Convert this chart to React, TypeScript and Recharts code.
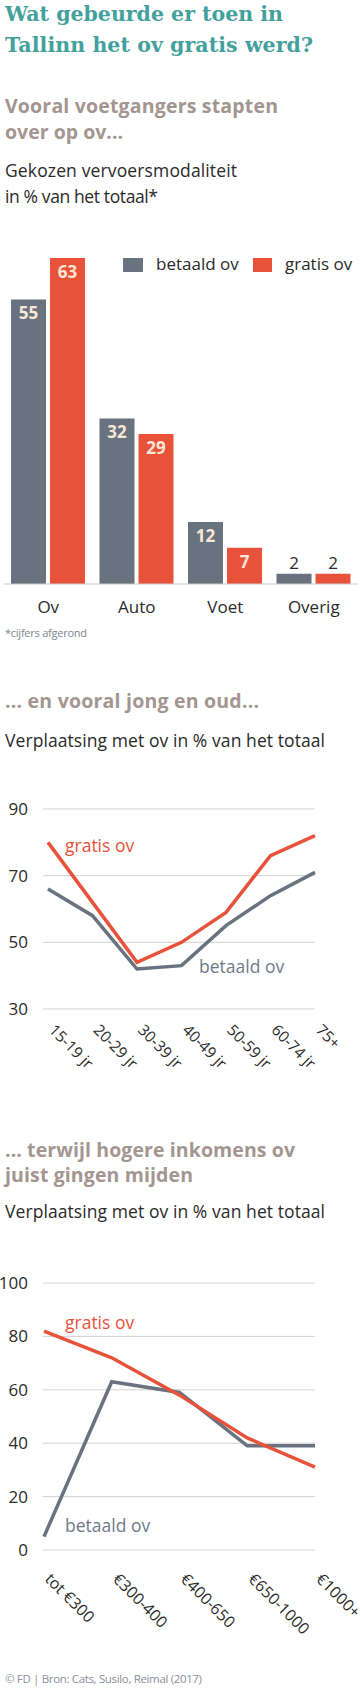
import React from 'react';
import { BarChart, Bar, XAxis, YAxis, LabelList, Legend, LineChart, Line, CartesianGrid } from 'recharts';

const SANS = '"Open Sans", Lato, sans-serif';
const SERIF = '"DejaVu Serif", serif';
const GREY = '#68737f';
const RED = '#e8523a';
const TEAL = '#43a19d';
const TAUPE = '#a39590';
const INK = '#2a2a2a';
const GRID = '#d6d0cd';

// bar chart: keuze vervoermiddel
const modes = ['Ov', 'Auto', 'Voet', 'Overig'];
const paidModes = [55, 32, 12, 2];
const freeModes = [63, 29, 7, 2];

// leeftijd
const ages = ['15-19 jr', '20-29 jr', '30-39 jr', '40-49 jr', '50-59 jr', '60-74 jr', '75+'];
const paidAges = [66, 58, 42, 43, 55, 64, 71];
const freeAges = [80, 62, 44, 50, 59, 76, 82];
const ageTicks = [30, 50, 70, 90];

// inkomen
const incomes = ['tot €300', '€300-400', '€400-650', '€650-1000', '€1000+'];
const paidIncome = [5, 63, 59, 39, 39];
const freeIncome = [82, 72, 58, 42, 31];
const incomeTicks = [0, 20, 40, 60, 80, 100];

const modeData = modes.map((m, i) => ({ mode: m, betaald: paidModes[i], gratis: freeModes[i] }));
const ageData = ages.map((a, i) => ({ age: a, betaald: paidAges[i], gratis: freeAges[i] }));
const incomeData = incomes.map((a, i) => ({ income: a, betaald: paidIncome[i], gratis: freeIncome[i] }));

const renderValue = (props: any) => {
  const { x, y, width, value } = props;
  const inside = value > 5;
  return (
    <text
      x={x + width / 2}
      y={inside ? y + 20 : y - 5}
      textAnchor="middle"
      fontFamily={SANS}
      fontSize={17}
      fontWeight={inside ? 700 : 400}
      fill={inside ? '#fbe6d6' : INK}
    >
      {value}
    </text>
  );
};

const renderModeTick = (props: any) => {
  const { x, y, payload } = props;
  return (
    <text x={x} y={y + 29} textAnchor="middle" fontFamily={SANS} fontSize={17} fill={INK}>
      {payload.value}
    </text>
  );
};

const renderLegend = () => (
  <div style={{ position: 'relative', height: 18, fontFamily: SANS, fontSize: 17, color: INK }}>
    <div style={{ position: 'absolute', left: 123, top: 2, width: 20, height: 14, background: GREY }} />
    <div style={{ position: 'absolute', left: 156, top: -2, lineHeight: '20px', whiteSpace: 'nowrap' }}>betaald ov</div>
    <div style={{ position: 'absolute', left: 253, top: 2, width: 19, height: 14, background: RED }} />
    <div style={{ position: 'absolute', left: 285, top: -2, lineHeight: '20px', whiteSpace: 'nowrap' }}>gratis ov</div>
  </div>
);

const yTick = (props: any) => {
  const { y, payload } = props;
  return (
    <text x={28} y={y} dy={6} textAnchor="end" fontFamily={SANS} fontSize={17} fill={INK}>
      {payload.value}
    </text>
  );
};

const makeAngleTick = (dx: number, dy: number, size: number) => (props: any) => {
  const { x, y, payload } = props;
  return (
    <g transform={`translate(${x + dx},${y + dy})`}>
      <text transform="rotate(45)" textAnchor="start" fontFamily={SANS} fontSize={size} fill={INK}>
        {payload.value}
      </text>
    </g>
  );
};

const ModeChart = () => (
  <BarChart width={360} height={390} data={modeData} margin={{ top: 28, right: 2, left: 4, bottom: 0 }} barGap={4} barSize={35}>
    <XAxis dataKey="mode" height={36} axisLine={{ stroke: '#cfc8c5' }} tickLine={false} tickSize={0} tickMargin={0} interval={0} tick={renderModeTick} />
    <YAxis hide domain={[0, 63]} />
    <Legend verticalAlign="middle" align="center" content={renderLegend} wrapperStyle={{ top: 26, left: 0, width: 360 }} />
    <Bar dataKey="betaald" fill={GREY} isAnimationActive={false}>
      <LabelList dataKey="betaald" content={renderValue} />
    </Bar>
    <Bar dataKey="gratis" fill={RED} isAnimationActive={false}>
      <LabelList dataKey="gratis" content={renderValue} />
    </Bar>
  </BarChart>
);

const AgeChart = () => (
  <LineChart width={360} height={300} data={ageData} margin={{ top: 29, right: 45, left: 0, bottom: 0 }}>
    <CartesianGrid vertical={false} stroke={GRID} />
    <XAxis dataKey="age" height={71} axisLine={false} tickLine={false} interval={0} padding={{ left: 5, right: 0 }} tick={makeAngleTick(0, 14, 15.5)} />
    <YAxis width={43} domain={[30, 90]} ticks={ageTicks} axisLine={false} tickLine={false} tick={yTick} />
    <Line dataKey="betaald" stroke={GREY} strokeWidth={3.5} dot={false} isAnimationActive={false} />
    <Line dataKey="gratis" stroke={RED} strokeWidth={3.5} dot={false} isAnimationActive={false} />
  </LineChart>
);

const IncomeChart = () => (
  <LineChart width={360} height={385} data={incomeData} margin={{ top: 23, right: 45, left: 0, bottom: 0 }}>
    <CartesianGrid vertical={false} stroke={GRID} />
    <XAxis dataKey="income" height={95} axisLine={false} tickLine={false} interval={0} padding={{ left: 1, right: 0 }} tick={makeAngleTick(0, 22, 16)} />
    <YAxis width={43} domain={[0, 100]} ticks={incomeTicks} axisLine={false} tickLine={false} tick={yTick} />
    <Line dataKey="betaald" stroke={GREY} strokeWidth={3.5} dot={false} isAnimationActive={false} />
    <Line dataKey="gratis" stroke={RED} strokeWidth={3.5} dot={false} isAnimationActive={false} />
  </LineChart>
);

const T = (p: { x?: number; y: number; c?: string; s?: number; w?: number; f?: string; len?: number; children: React.ReactNode }) => (
  <text
    x={p.x ?? 5}
    y={p.y}
    fill={p.c ?? INK}
    fontSize={p.s ?? 17.5}
    fontWeight={p.w ?? 400}
    fontFamily={p.f ?? SANS}
    textLength={p.len}
    lengthAdjust={p.len ? 'spacing' : undefined}
  >
    {p.children}
  </text>
);

export default function App() {
  return (
    <div style={{ position: 'absolute', left: 0, top: 0, width: 360, height: 1689, background: '#fff', overflow: 'hidden' }}>
      <svg width={360} height={1689} style={{ position: 'absolute', left: 0, top: 0 }}>
        <T y={21} c={TEAL} s={20.5} w={700} f={SERIF} len={278}>Wat gebeurde er toen in</T>
        <T y={52} c={TEAL} s={20.5} w={700} f={SERIF} len={308}>Tallinn het ov gratis werd?</T>
        <T y={113} c={TAUPE} s={19.5} w={700} len={273}>Vooral voetgangers stapten</T>
        <T y={139} c={TAUPE} s={19.5} w={700} len={118}>over op ov...</T>
        <T y={177} len={232}>Gekozen vervoersmodaliteit</T>
        <T y={203} len={153}>in % van het totaal*</T>
        <T y={637} c="#7d8591" s={11} len={82}>*cijfers afgerond</T>
        <T y={708} c={TAUPE} s={19.5} w={700} len={254}>... en vooral jong en oud...</T>
        <T y={747} len={320}>Verplaatsing met ov in % van het totaal</T>
        <T x={65} y={852} c={RED}>gratis ov</T>
        <T x={199} y={973} c="#6e7a8a">betaald ov</T>
        <T y={1157} c={TAUPE} s={19.5} w={700} len={290}>... terwijl hogere inkomens ov</T>
        <T y={1182} c={TAUPE} s={19.5} w={700} len={188}>juist gingen mijden</T>
        <T y={1218} len={320}>Verplaatsing met ov in % van het totaal</T>
        <T x={65} y={1329} c={RED}>gratis ov</T>
        <T x={65} y={1532} c="#6e7a8a">betaald ov</T>
        <T y={1683} c="#8a8f99" s={11.5} len={197}>© FD | Bron: Cats, Susilo, Reimal (2017)</T>
      </svg>
      <div style={{ position: 'absolute', left: 0, top: 230 }}>
        <ModeChart />
      </div>
      <div style={{ position: 'absolute', left: 0, top: 780 }}>
        <AgeChart />
      </div>
      <div style={{ position: 'absolute', left: 0, top: 1260 }}>
        <IncomeChart />
      </div>
    </div>
  );
}
